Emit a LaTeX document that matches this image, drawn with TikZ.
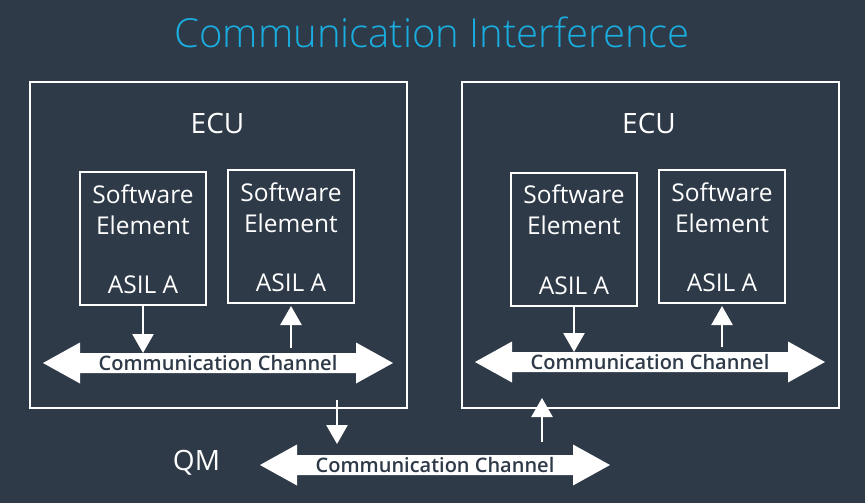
\documentclass[tikz,border=0pt]{standalone}
\usepackage{fontspec}
\setmainfont{Open Sans}
\newfontfamily\lightfont{Open Sans Light}
\newfontfamily\semifont{Open Sans Semibold}
\usetikzlibrary{arrows.meta}
\definecolor{bg}{HTML}{2E3A48}
\definecolor{titleblue}{HTML}{1AAEE0}
\tikzset{
  ecubox/.style={draw=white, line width=2pt, minimum width=377pt, minimum height=326pt, inner sep=0pt},
  swbox/.style={draw=white, line width=2pt, minimum width=126pt, minimum height=133pt, inner sep=0pt},
  lbl/.style={text=white, font=\fontsize{24.5}{27}\selectfont, inner sep=0pt},
  biglbl/.style={text=white, font=\fontsize{28}{30}\selectfont, inner sep=0pt},
  chtext/.style={text=bg, font=\semifont\fontsize{20}{22}\selectfont, inner sep=0pt, anchor=base},
  flow/.style={draw=white, line width=2.5pt, -{Triangle[width=21pt,length=19pt]}}
}
% white two-headed channel arrow centred on (#1), with its caption node #2
\newcommand\chanarrow[2]{%
  \fill[white, shift={(#1)}] (-175,0) -- (-138,-20.5) -- (-138,-10) -- (138,-10) -- (138,-20.5)
    -- (175,0) -- (138,20.5) -- (138,10) -- (-138,10) -- (-138,20.5) -- cycle;
  \node[chtext] (#2) at ([yshift=-7pt]#1) {Communication Channel};
  \coordinate (#2top) at ([yshift=10pt]#1);
}
\begin{document}
\begin{tikzpicture}[x=1pt,y=-1pt]
\fill[bg] (0,0) rectangle (865,503);
\useasboundingbox (0,0) rectangle (865,503);

\node[text=titleblue, font=\lightfont\fontsize{40}{43}\selectfont, inner sep=0pt] (title) at (432,32) {Communication Interference};

% two ECUs
\node[ecubox] (ecuL) at (218.5,245) {};
\node[ecubox] (ecuR) at (650,245) {};
\node[biglbl] (ecuLt) at (217.5,123.5) {ECU};
\node[biglbl] (ecuRt) at (649,123.5) {ECU};

% software elements
\node[swbox] (sw1) at (143,238.5) {};
\node[swbox] (sw2) at (291,236.5) {};
\node[swbox] (sw3) at (574,239) {};
\node[swbox] (sw4) at (722,236.5) {};
\foreach \s in {sw1,sw2,sw3,sw4}{
  \node[lbl] (\s a) at ([yshift=-23pt]\s.north) {Software};
  \node[lbl] (\s b) at ([yshift=-54pt]\s.north) {Element};
  \node[lbl] (\s c) at ([yshift=-114pt]\s.north) {ASIL A};
}

% communication channels
\coordinate (cL) at (218,363);
\coordinate (cR) at (650,362);
\coordinate (cQ) at (435,465);
\chanarrow{cL}{chL}
\chanarrow{cR}{chR}
\chanarrow{cQ}{chQ}
\node[biglbl] (qm) at (196.5,463) {QM};

% data flow
\draw[flow] (sw1.south) -- (sw1.south |- chLtop);
\draw[flow] ([yshift=5pt]sw2.south |- chLtop) -- ([yshift=-2pt]sw2.south);
\draw[flow] (sw3.south) -- (sw3.south |- chRtop);
\draw[flow] ([yshift=5pt]sw4.south |- chRtop) -- ([yshift=-2pt]sw4.south);
\coordinate (qdown) at (337,400);
\coordinate (qup) at (542,442);
\draw[flow] (qdown) -- ([yshift=11pt]qdown |- chQtop);
\draw[flow] (qup) -- ([yshift=11pt]qup |- ecuR.south);
\end{tikzpicture}
\end{document}
